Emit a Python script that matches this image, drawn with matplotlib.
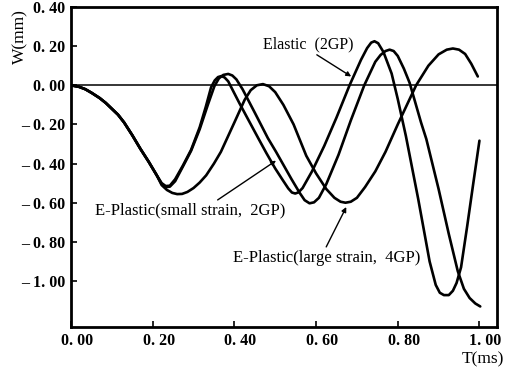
import matplotlib
matplotlib.use('Agg')
import matplotlib.pyplot as plt
import matplotlib.transforms as mtransforms
import numpy as np

# shared early part of all three curves
t_start = [0.0, 0.02, 0.035, 0.05, 0.07, 0.085, 0.10, 0.115, 0.13, 0.15, 0.17, 0.19, 0.21]
w_start = [0.0, -0.008, -0.02, -0.038, -0.065, -0.09, -0.12, -0.15, -0.19, -0.255, -0.325, -0.39, -0.46]

# Elastic (2GP)
t_el = [0.222, 0.232, 0.242, 0.255, 0.274, 0.294, 0.315, 0.33, 0.343, 0.352, 0.36, 0.368,
        0.376, 0.385, 0.396, 0.412, 0.43, 0.461, 0.478, 0.50, 0.518, 0.532, 0.541, 0.549,
        0.557, 0.567, 0.59, 0.62, 0.65, 0.682, 0.71, 0.725, 0.735, 0.743, 0.752, 0.765,
        0.785, 0.80, 0.82, 0.85, 0.878, 0.893, 0.903, 0.913, 0.925, 0.935, 0.944, 0.955,
        0.97, 0.985, 1.0]
w_el = [-0.5, -0.515, -0.513, -0.48, -0.41, -0.33, -0.215, -0.11, -0.01, 0.025, 0.042, 0.047,
        0.04, 0.02, -0.025, -0.09, -0.16, -0.28, -0.345, -0.425, -0.483, -0.527, -0.548, -0.553,
        -0.547, -0.525, -0.44, -0.31, -0.165, 0.0, 0.13, 0.19, 0.218, 0.225, 0.215, 0.17,
        0.06, -0.07, -0.26, -0.58, -0.9, -1.02, -1.06, -1.072, -1.072, -1.05, -1.01, -0.93,
        -0.72, -0.5, -0.283]

# E-Plastic (small strain, 2GP)
t_ss = [0.222, 0.232, 0.242, 0.255, 0.274, 0.294, 0.315, 0.335, 0.351, 0.362, 0.373,
        0.385, 0.395, 0.405, 0.42, 0.45, 0.482, 0.502, 0.54, 0.56, 0.572, 0.584, 0.595,
        0.607, 0.625, 0.655, 0.685, 0.718, 0.745, 0.758, 0.77, 0.78, 0.79, 0.80, 0.815,
        0.829, 0.857, 0.87, 0.9, 0.925, 0.947, 0.962, 0.976, 0.99, 1.002]
w_ss = [-0.505, -0.52, -0.518, -0.49, -0.415, -0.335, -0.225, -0.1, -0.005, 0.035, 0.053,
        0.058, 0.05, 0.03, -0.02, -0.14, -0.27, -0.34, -0.48, -0.55, -0.587, -0.603, -0.598,
        -0.575, -0.505, -0.355, -0.18, 0.0, 0.12, 0.155, 0.175, 0.182, 0.175, 0.15, 0.085,
        0.013, -0.19, -0.275, -0.53, -0.76, -0.95, -1.04, -1.087, -1.115, -1.13]

# E-Plastic (large strain, 4GP)
t_ls = [0.222, 0.235, 0.248, 0.26, 0.272, 0.285, 0.3, 0.315, 0.331, 0.35, 0.367, 0.40,
        0.425, 0.44, 0.455, 0.47, 0.485, 0.50, 0.52, 0.545, 0.576, 0.60, 0.625, 0.645,
        0.66, 0.672, 0.685, 0.70, 0.72, 0.745, 0.77, 0.80, 0.845, 0.875, 0.9, 0.92,
        0.935, 0.95, 0.965, 0.98, 0.996]
w_ls = [-0.51, -0.535, -0.55, -0.556, -0.555, -0.545, -0.525, -0.497, -0.46, -0.4, -0.34,
        -0.19, -0.075, -0.025, 0.0, 0.006, -0.005, -0.035, -0.1, -0.2, -0.36, -0.45, -0.53,
        -0.575, -0.595, -0.6, -0.595, -0.575, -0.52, -0.44, -0.34, -0.2, 0.0, 0.1, 0.158,
        0.182, 0.188, 0.182, 0.16, 0.11, 0.045]

x_ticks = [0.0, 0.2, 0.4, 0.6, 0.8, 1.0]
x_labels = ['0. 00', '0. 20', '0. 40', '0. 60', '0. 80', '1. 00']
y_ticks = [0.4, 0.2, 0.0, -0.2, -0.4, -0.6, -0.8, -1.0]
y_labels = ['0. 40', '0. 20', '0. 00', '\u2013 0. 20', '\u2013 0. 40', '\u2013 0. 60',
            '\u2013 0. 80', '\u2013 1. 00']

serif = 'Liberation Serif'

fig = plt.figure(figsize=(5.13, 3.71), dpi=100)
ax = fig.add_axes([71 / 513, 1 - 327 / 371, 426 / 513, 320 / 371])

for t, w in [(t_el, w_el), (t_ss, w_ss), (t_ls, w_ls)]:
    ax.plot(t_start + t, w_start + w, color='black', lw=1.9,
            solid_joinstyle='round', solid_capstyle='round')

ax.axhline(0, color='black', lw=1.1)

ax.set_xlim(0, 1.043)
ax.set_ylim(-1.235, 0.40)
ax.set_xticks(x_ticks)
ax.set_xticklabels(x_labels, family=serif, weight='bold', fontsize=11.5)
ax.set_yticks(y_ticks)
ax.set_yticklabels(y_labels, family=serif, weight='bold', fontsize=11.5)
ax.tick_params(direction='in', length=4, width=1.2, pad=4)
shift = mtransforms.ScaledTranslation(6 / 100, 0, fig.dpi_scale_trans)
for lab in ax.get_xticklabels():
    lab.set_transform(lab.get_transform() + shift)
for s in ax.spines.values():
    s.set_linewidth(2.0)

arrow = dict(arrowstyle='-|>', color='black', lw=1.0, mutation_scale=7, shrinkA=0, shrinkB=0)
ax.annotate('Elastic  (2GP)', xy=(0.686, 0.045), xytext=(0.58, 0.17),
            family=serif, fontsize=11.5, ha='center', va='bottom',
            arrowprops=dict(arrow, relpos=(0.55, 0.0)))
ax.annotate('E-Plastic(small strain,  2GP)', xy=(0.502, -0.385), xytext=(0.293, -0.6),
            family=serif, fontsize=12, ha='center', va='top',
            arrowprops=dict(arrow, relpos=(0.62, 1.0)))
ax.annotate('E-Plastic(large strain,  4GP)', xy=(0.674, -0.622), xytext=(0.626, -0.84),
            family=serif, fontsize=12, ha='center', va='top',
            arrowprops=dict(arrow, relpos=(0.49, 1.0)))

fig.text(20 / 513, 1 - 37 / 371, 'W(mm)', rotation=90, family=serif, fontsize=12.5,
         ha='center', va='center')
fig.text(483 / 513, 1 - 359 / 371, 'T(ms)', family=serif, fontsize=12.5,
         ha='center', va='center')

fig.savefig('out.png', dpi=100)
